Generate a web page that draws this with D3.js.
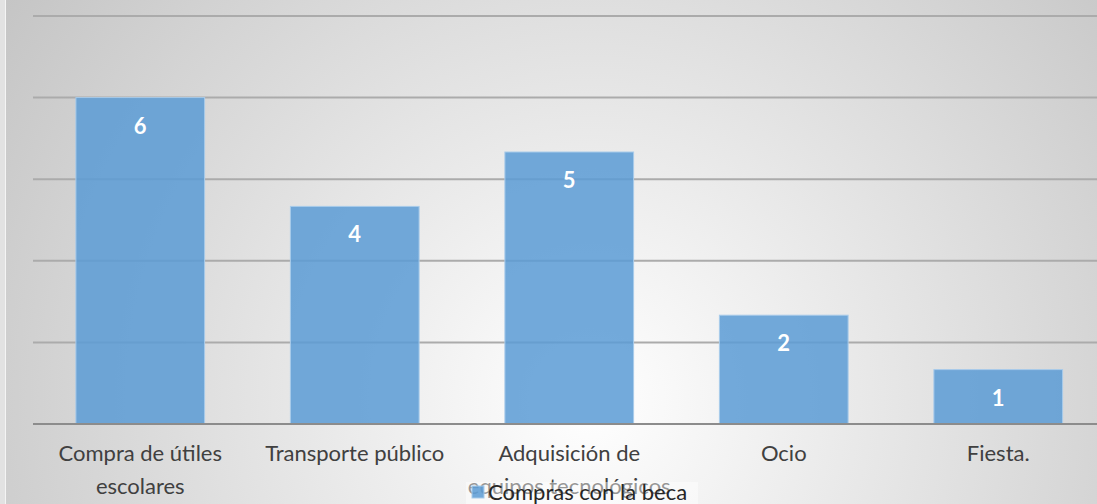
<!DOCTYPE html>
<html>
<head>
<meta charset="utf-8">
<script src="https://cdn.jsdelivr.net/npm/d3@7"></script>
<style>
  body { margin: 0; padding: 0; overflow: hidden; }
  svg { display: block; }
</style>
</head>
<body>
<svg></svg>
<script>
// data
const categories = ["Compra de útiles escolares", "Transporte público", "Adquisición de equipos tecnológicos", "Ocio", "Fiesta."];
const labelLines = [["Compra de útiles", "escolares"], ["Transporte público"], ["Adquisición de", "equipos tecnológicos"], ["Ocio"], ["Fiesta."]];
const values = [6, 4, 5, 2, 1];
const seriesName = "Compras con la beca";
const gridTicks = [0, 1.5, 3, 4.5, 6, 7.5];

const w = 1097, h = 504;
const margin = { top: 16, bottom: 80, left: 33, right: -8.5 };
const innerWidth = w - margin.left - margin.right;
const innerHeight = h - margin.top - margin.bottom;
const font = "Lato, 'Open Sans', sans-serif";

const svg = d3.select("svg").attr("width", w).attr("height", h);

// radial background like the Excel preset
const defs = svg.append("defs");
const grad = defs.append("radialGradient")
  .attr("id", "bg")
  .attr("gradientUnits", "userSpaceOnUse")
  .attr("cx", 590).attr("cy", 400).attr("r", 720);
grad.append("stop").attr("offset", 0).attr("stop-color", "#ffffff");
grad.append("stop").attr("offset", 1).attr("stop-color", "#c4c4c4");

svg.append("rect").attr("width", w).attr("height", h).attr("fill", "url(#bg)");
svg.append("rect").attr("width", 5).attr("height", h).attr("fill", "#e2e2e2");
svg.append("line").attr("x1", 5.5).attr("x2", 5.5).attr("y1", 0).attr("y2", h)
  .attr("stroke", "#f4f4f4").attr("stroke-width", 1);

const g = svg.append("g").attr("transform", `translate(${margin.left},${margin.top})`);

const xScale = d3.scaleBand()
  .domain(categories)
  .range([0, innerWidth])
  .paddingInner(0.4)
  .paddingOuter(0.2);

const yScale = d3.scaleLinear()
  .domain([0, 7.5])
  .range([innerHeight, 0]);

// gridlines
g.append("g")
  .selectAll("line")
  .data(gridTicks.slice(1))
  .enter().append("line")
  .attr("x1", 0).attr("x2", w - margin.left)
  .attr("y1", d => yScale(d)).attr("y2", d => yScale(d))
  .attr("stroke", "#ababab")
  .attr("stroke-width", 2);

// bars
g.selectAll("rect.bar")
  .data(values)
  .enter().append("rect")
  .attr("class", "bar")
  .attr("x", (d, i) => xScale(categories[i]))
  .attr("y", d => yScale(d))
  .attr("width", xScale.bandwidth())
  .attr("height", d => innerHeight - yScale(d))
  .attr("fill", "#5b9bd5")
  .attr("fill-opacity", 0.85)
  .attr("stroke", "#a8cbea")
  .attr("stroke-width", 1);

// baseline
g.append("line")
  .attr("x1", 0).attr("x2", w - margin.left)
  .attr("y1", yScale(0)).attr("y2", yScale(0))
  .attr("stroke", "#8c8c8c")
  .attr("stroke-width", 2);

// data labels
g.selectAll("text.val")
  .data(values)
  .enter().append("text")
  .attr("class", "val")
  .attr("x", (d, i) => xScale(categories[i]) + xScale.bandwidth() / 2)
  .attr("y", d => yScale(d) + 36)
  .attr("text-anchor", "middle")
  .attr("fill", "#ffffff")
  .attr("font-family", font)
  .attr("font-weight", "bold")
  .attr("font-size", 22)
  .text(d => d);

// category labels
const cat = g.append("g")
  .selectAll("text")
  .data(labelLines)
  .enter().append("text")
  .attr("x", (d, i) => xScale(categories[i]) + xScale.bandwidth() / 2)
  .attr("y", innerHeight + 37)
  .attr("text-anchor", "middle")
  .attr("fill", "#404040")
  .attr("font-family", font)
  .attr("font-size", 22);
cat.selectAll("tspan")
  .data(d => d)
  .enter().append("tspan")
  .attr("x", function() { return d3.select(this.parentNode).attr("x"); })
  .attr("dy", (d, i) => i === 0 ? 0 : 33)
  .attr("fill", (d, i) => i === 0 ? "#404040" : null)
  .text(d => d);

// legend (sits over the wrapped label, like in the original)
const legend = svg.append("g").attr("transform", "translate(466,482)");
legend.append("rect")
  .attr("width", 232).attr("height", 22)
  .attr("fill", "#ffffff").attr("fill-opacity", 0.45);
legend.append("rect")
  .attr("x", 6).attr("y", 4).attr("width", 12).attr("height", 12)
  .attr("fill", "#5b9bd5").attr("fill-opacity", 0.85)
  .attr("stroke", "#a8cbea");
legend.append("text")
  .attr("x", 22).attr("y", 18)
  .attr("fill", "#262626")
  .attr("font-family", font)
  .attr("font-size", 22)
  .text(seriesName);
</script>
</body>
</html>
